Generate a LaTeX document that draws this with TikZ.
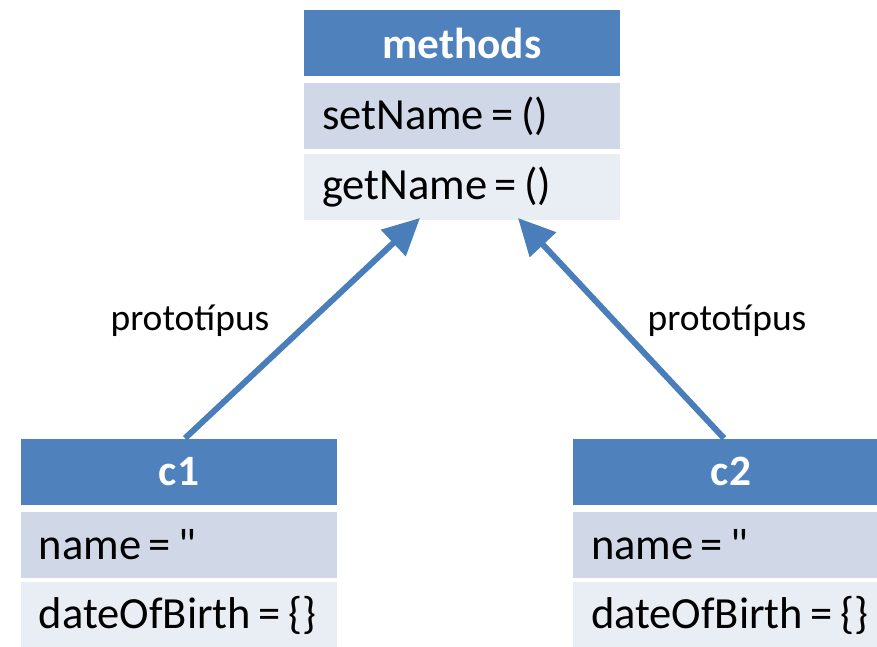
\documentclass[tikz,border=0pt]{standalone}
\usepackage{fontspec}
\setmainfont{Carlito}
\usetikzlibrary{positioning, arrows.meta}
\usepackage{xcolor}
\definecolor{headblue}{HTML}{4F81BD}
\definecolor{arrowblue}{HTML}{4A7EBB}
\definecolor{rowdark}{HTML}{D0D8E8}
\definecolor{rowlight}{HTML}{E9EDF4}

\tikzset{
  head/.style={fill=headblue, text=white, font=\fontsize{37}{40}\selectfont\bfseries,
    minimum width=9.48cm, minimum height=1.98cm, inner sep=0pt},
  row/.style={text width=8.4cm, inner xsep=0.54cm, inner ysep=0pt, align=left,
    minimum height=1.98cm, font=\fontsize{38}{42}\selectfont},
  rowa/.style={row, fill=rowdark},
  rowb/.style={row, fill=rowlight},
  proto/.style={line width=0.18cm, arrowblue, -{Triangle[length=1.1cm, width=1.05cm]}},
  protolabel/.style={font=\fontsize{32}{35}\selectfont}
}

\begin{document}
\begin{tikzpicture}[x=0.03cm, y=-0.03cm]
    \useasboundingbox (0,0) rectangle (877,646);

    % Prototype object
    \node[head] (methods) at (462,43) {methods};
    \node[rowa, below=0.21cm of methods] (setname) {setName\,=\,()};
    \node[rowb, below=0.12cm of setname] (getname) {getName\,=\,()};

    % Instances
    \node[head] (c1) at (179,471.5) {c1};
    \node[rowa, below=0.21cm of c1] (c1name) {name\,=\,\textquotedbl};
    \node[rowb, below=0.12cm of c1name] (c1date) {dateOfBirth\,=\,\{\}};

    \node[head] (c2) at (731,471.5) {c2};
    \node[rowa, below=0.21cm of c2] (c2name) {name\,=\,\textquotedbl};
    \node[rowb, below=0.12cm of c2name] (c2date) {dateOfBirth\,=\,\{\}};

    % Prototype links
    \coordinate (tipL) at (420,218);
    \coordinate (tipR) at (518,218);
    \draw[proto] ([xshift=0.18cm]c1.north) -- (tipL);
    \draw[proto] ([xshift=-0.21cm]c2.north) -- (tipR);

    \node[protolabel] (labelL) at (190,321) {prototípus};
    \node[protolabel] (labelR) at (727,321) {prototípus};
\end{tikzpicture}
\end{document}
